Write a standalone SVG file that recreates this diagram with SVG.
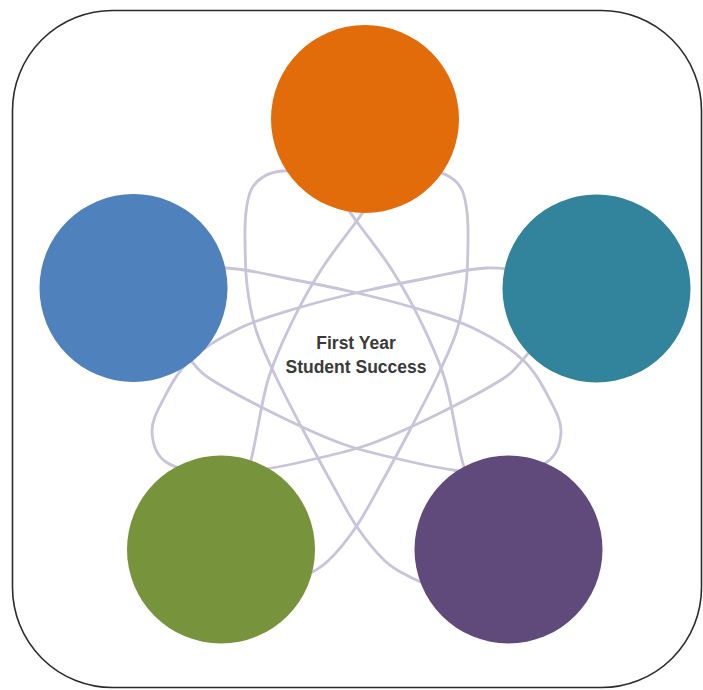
<svg xmlns="http://www.w3.org/2000/svg" width="703" height="690" viewBox="0 0 703 690">
  <style>
    .frame { fill: #ffffff; stroke: #2b2b2b; stroke-width: 1.6; }
    .orbit { fill: none; stroke: #c9c3dc; stroke-width: 2.8; stroke-linecap: round; stroke-linejoin: round; }
    .label { font-family: "Liberation Sans", Arial, sans-serif; font-weight: bold; font-size: 17.5px; fill: #3a3a3a; text-anchor: middle; }
  </style>
  <defs>
    <path id="orbitA" d="M165,275 C175.2,273.8 205.2,267.3 226,268 C246.8,268.7 268.8,275 290,279 C311.2,283 332.2,287.2 353,292 C373.8,296.8 395,302 415,308 C435,314 455,319.3 473,328 C491,336.7 510.2,348 523,360 C535.8,372 543.7,388 550,400 C556.3,412 561.5,421.7 561,432 C560.5,442.3 557.2,455 547,462 C536.8,469 515.7,472.7 500,474 C484.3,475.3 471.3,472.8 453,470 C434.7,467.2 408.8,461.5 390,457 C371.2,452.5 359.2,450.2 340,443 C320.8,435.8 296.3,424.5 275,414 C253.7,403.5 225.7,388.5 212,380 C198.3,371.5 200,370.5 193,363 C186,355.5 173.8,339.7 170,335"/>
    <path id="orbitC" d="M478,505 C475.3,497.5 467.5,480.8 462,460 C456.5,439.2 452,403.3 445,380 C438,356.7 428.8,338.3 420,320 C411.2,301.7 402,285.7 392,270 C382,254.3 369.5,238.7 360,226 C350.5,213.3 344.2,202.7 335,194 C325.8,185.3 313.8,177.8 305,174 C296.2,170.2 289,170.5 282,171 C275,171.5 268.2,173.8 263,177 C257.8,180.2 253.8,184.2 251,190 C248.2,195.8 247,203.7 246,212 C245,220.3 244.8,227.8 245,240 C245.2,252.2 245.2,270 247,285 C248.8,300 251.3,315 256,330 C260.7,345 267.3,358.7 275,375 C282.7,391.3 292.8,410.5 302,428 C311.2,445.5 320.8,463.5 330,480 C339.2,496.5 347.8,513.5 357,527 C366.2,540.5 376.2,552.7 385,561 C393.8,569.3 400,571.8 410,577 C420,582.2 439.2,589.5 445,592"/>
  </defs>

  <rect class="frame" x="12.5" y="10.5" width="689" height="677" rx="100" ry="100"/>

  <g id="connectors">
    <use href="#orbitA" class="orbit"/>
    <use href="#orbitA" class="orbit" transform="matrix(-1 0 0 1 713 0)"/>
    <use href="#orbitC" class="orbit"/>
    <use href="#orbitC" class="orbit" transform="matrix(-1 0 0 1 713 0)"/>
  </g>

  <g id="center">
    <text class="label" x="356" y="349">First Year</text>
    <text class="label" x="356" y="373">Student Success</text>
  </g>

  <g id="node-orange"><circle cx="365" cy="119" r="94" fill="#E36C0A"/></g>
  <g id="node-teal"><circle cx="596.5" cy="288.5" r="94" fill="#31849B"/></g>
  <g id="node-blue"><circle cx="133.5" cy="288" r="94" fill="#4F81BD"/></g>
  <g id="node-green"><circle cx="221" cy="549.5" r="94" fill="#77933C"/></g>
  <g id="node-purple"><circle cx="508.5" cy="549.5" r="94" fill="#604A7B"/></g>
</svg>
